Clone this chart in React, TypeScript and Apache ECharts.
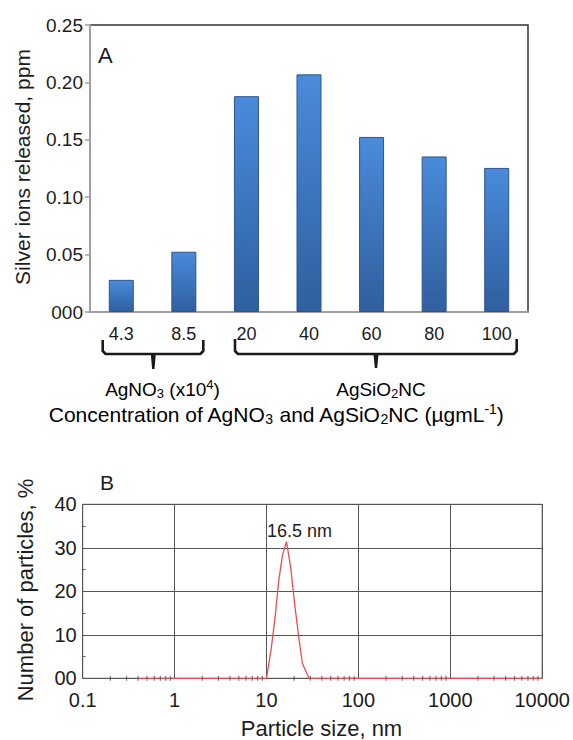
import React, { useEffect, useRef } from "react";
import * as echarts from "echarts";

// ---- Panel A data ----
const concentrationLabels = ["4.3", "8.5", "20", "40", "60", "80", "100"];
const silverReleased = [0.028, 0.0525, 0.188, 0.207, 0.1525, 0.1355, 0.1255];
const yTicksA = [0, 0.05, 0.1, 0.15, 0.2, 0.25];

// ---- Panel B data ----
const particleSizes = [0.4, 10, 11.2, 12.4, 13.6, 15, 16.5, 18.3, 20.4, 22.4, 24.6, 29, 10000];
const particlePercent = [0, 0, 6.5, 14, 22.5, 28.5, 31.4, 25.6, 16.5, 9.6, 3.4, 0, 0];
const peakLabel = "16.5 nm";
const decadeStarts = [0.1, 1, 10, 100, 1000];
const minorMultipliers = [2, 3, 4, 5, 6, 7, 8, 9];

const FONT = "'Liberation Sans', Arial, sans-serif";
const INK = "#1c1c1c";

export default function App() {
  const ref = useRef<HTMLDivElement>(null);
  useEffect(() => {
    if (!ref.current) return;
    const chart = echarts.init(ref.current, undefined, { renderer: "svg" });

    const minorTickData = decadeStarts.flatMap((d) =>
      minorMultipliers.map((m) => [+(d * m).toPrecision(3), 0])
    );

    const peak = Math.max(...particlePercent);
    const peakIdx = particlePercent.indexOf(peak);
    const lineData = particleSizes.map((s, i) => [s, particlePercent[i]]);

    const rich = {
      n: { fontSize: 19, lineHeight: 22, color: INK, fontFamily: FONT },
      s: { fontSize: 13, lineHeight: 13, verticalAlign: "bottom", color: INK, fontFamily: FONT },
      p: { fontSize: 13, lineHeight: 13, verticalAlign: "top", color: INK, fontFamily: FONT },
      N: { fontSize: 21, lineHeight: 24, color: INK, fontFamily: FONT },
      S: { fontSize: 14, lineHeight: 14, verticalAlign: "bottom", color: INK, fontFamily: FONT },
      P: { fontSize: 14, lineHeight: 14, verticalAlign: "top", color: INK, fontFamily: FONT },
    };

    const braceStyle = { stroke: "#1a1a1a", lineWidth: 2.6, fill: null, lineJoin: "round", lineCap: "butt" };
    const brace = (x0: number, x1: number, tip: number, top: number, h: number, bottom: number) => [
      {
        type: "polyline",
        shape: {
          points: [
            [x0, top],
            [x0, h - 3],
            [x0 + 3, h],
            [x1 - 3, h],
            [x1, h - 3],
            [x1, top],
          ],
        },
        style: braceStyle,
      },
      {
        type: "polygon",
        shape: { points: [[tip - 2.5, h], [tip + 2.5, h], [tip + 1.2, bottom], [tip - 1.2, bottom]] },
        style: { fill: "#1a1a1a" },
      },
    ];

    const option: any = {
      animation: false,
      textStyle: { fontFamily: FONT },
      grid: [
        { left: 90, right: 45, top: 25, height: 287, show: true, borderColor: "#333", borderWidth: 1.5 },
        { left: 82.7, right: 24.3, top: 504.3, height: 174, show: true, borderColor: "#555", borderWidth: 1 },
      ],
      xAxis: [
        {
          gridIndex: 0,
          type: "category",
          data: concentrationLabels,
          axisLine: { lineStyle: { color: "#a0a0a0", width: 2 } },
          axisTick: { show: false },
          axisLabel: { fontSize: 18, color: INK, margin: 13, fontFamily: FONT },
        },
        {
          gridIndex: 1,
          type: "log",
          logBase: 10,
          min: 0.1,
          max: 10000,
          axisLine: { lineStyle: { color: "#555", width: 1 } },
          axisTick: { show: false },
          splitLine: { show: true, lineStyle: { color: "#555", width: 1 } },
          axisLabel: {
            fontSize: 20,
            color: INK,
            margin: 12,
            fontFamily: FONT,
            formatter: (v: number) => (v < 1 ? v.toFixed(1) : String(Math.round(v))),
          },
        },
      ],
      yAxis: [
        {
          gridIndex: 0,
          type: "value",
          min: yTicksA[0],
          max: yTicksA[yTicksA.length - 1],
          interval: 0.05,
          axisLine: { show: true, lineStyle: { color: "#a0a0a0", width: 2 } },
          axisTick: { show: true, length: 5, lineStyle: { color: "#a0a0a0", width: 1.5 } },
          splitLine: { show: false },
          axisLabel: {
            fontSize: 19,
            color: INK,
            margin: 7,
            fontFamily: FONT,
            formatter: (v: number) => (v === 0 ? "000" : v.toFixed(2)),
          },
        },
        {
          gridIndex: 1,
          type: "value",
          min: 0,
          max: 40,
          interval: 10,
          axisLine: { show: true, lineStyle: { color: "#555", width: 1 } },
          axisTick: { show: false, inside: true },
          minorTick: { show: true, splitNumber: 2, length: 3, lineStyle: { color: "#666", width: 1 } },
          splitLine: { show: true, lineStyle: { color: "#555", width: 1 } },
          axisLabel: {
            fontSize: 20,
            color: INK,
            margin: 6,
            fontFamily: FONT,
            formatter: (v: number) => (v === 0 ? "00" : String(v)),
          },
        },
      ],
      series: [
        {
          type: "bar",
          xAxisIndex: 0,
          yAxisIndex: 0,
          data: silverReleased,
          barWidth: 25,
          itemStyle: {
            color: {
              type: "linear",
              x: 0,
              y: 0,
              x2: 0,
              y2: 1,
              colorStops: [
                { offset: 0, color: "#4a8bdb" },
                { offset: 1, color: "#2f5f9e" },
              ],
            },
            borderColor: "#2a5690",
            borderWidth: 1,
          },
        },
        {
          type: "line",
          xAxisIndex: 1,
          yAxisIndex: 1,
          data: lineData,
          showSymbol: false,
          symbol: "none",
          lineStyle: { color: "#ec4c50", width: 1.3 },
          z: 3,
          markPoint: {
            symbol: "circle",
            symbolSize: 1,
            silent: true,
            itemStyle: { color: "rgba(0,0,0,0)" },
            label: {
              show: true,
              position: "top",
              distance: 1,
              offset: [13, 0],
              formatter: peakLabel,
              fontSize: 18,
              color: INK,
              fontFamily: FONT,
            },
            data: [{ coord: [particleSizes[peakIdx], peak] }],
          },
        },
        {
          type: "scatter",
          xAxisIndex: 1,
          yAxisIndex: 1,
          data: minorTickData,
          symbol: "rect",
          symbolSize: [1.2, 5],
          itemStyle: { color: "#555" },
          silent: true,
          z: 4,
        },
      ],
      graphic: [
        { type: "text", x: 98, y: 55, style: { text: "A", fontSize: 22, fill: INK, fontFamily: FONT, verticalAlign: "middle" } },
        { type: "text", x: 100, y: 482, style: { text: "B", fontSize: 21, fill: INK, fontFamily: FONT, verticalAlign: "middle" } },
        {
          type: "text",
          x: 22,
          y: 167,
          rotation: Math.PI / 2,
          style: { text: "Silver ions released, ppm", fontSize: 21, fill: INK, fontFamily: FONT, align: "center", verticalAlign: "middle" },
        },
        {
          type: "text",
          x: 25,
          y: 590,
          rotation: Math.PI / 2,
          style: { text: "Number of particles, %", fontSize: 22, fill: INK, fontFamily: FONT, align: "center", verticalAlign: "middle" },
        },
        {
          type: "text",
          x: 321.5,
          y: 728,
          style: { text: "Particle size, nm", fontSize: 22, fill: INK, fontFamily: FONT, align: "center", verticalAlign: "middle" },
        },
        ...brace(102.7, 203.3, 153.3, 340, 354, 369),
        ...brace(235, 516.7, 376, 339, 354, 368),
        {
          type: "text",
          x: 162.5,
          y: 389,
          style: { text: "{n|AgNO}{s|3}{n| (x10}{p|4}{n|)}", rich, align: "center", verticalAlign: "middle" },
        },
        {
          type: "text",
          x: 381,
          y: 389,
          style: { text: "{n|AgSiO}{s|2}{n|NC}", rich, align: "center", verticalAlign: "middle" },
        },
        {
          type: "text",
          x: 276,
          y: 414,
          style: {
            text: "{N|Concentration of AgNO}{S|3}{N| and AgSiO}{S|2}{N|NC (µgmL}{P|-1}{N|)}",
            rich,
            align: "center",
            verticalAlign: "middle",
          },
        },
      ],
    };

    chart.setOption(option);
    return () => chart.dispose();
  }, []);

  return (
    <div
      ref={ref}
      style={{ position: "fixed", left: 0, top: 0, width: 573, height: 740, background: "#fff" }}
    />
  );
}
